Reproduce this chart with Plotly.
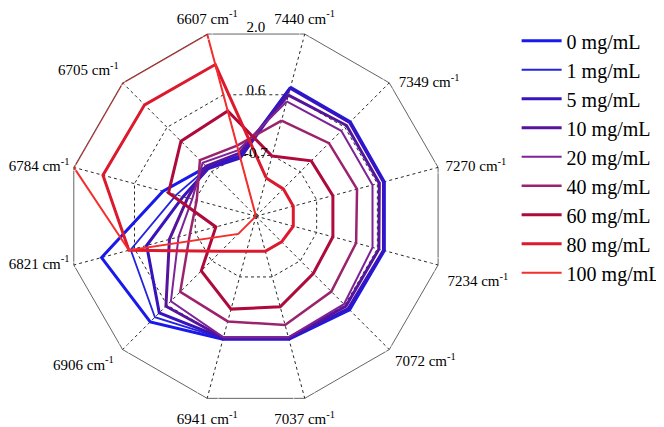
import plotly.graph_objects as go

wavenumbers = ["7440", "7349", "7270", "7234", "7072", "7037",
               "6941", "6906", "6821", "6784", "6705", "6607"]
axis_labels = [w + " cm<sup>-1</sup>" for w in wavenumbers]

names = ["0 mg/mL", "1 mg/mL", "5 mg/mL", "10 mg/mL", "20 mg/mL",
         "40 mg/mL", "60 mg/mL", "80 mg/mL", "100 mg/mL"]

c0 = [0.83, 0.83, 0.82, 0.82, 0.81, 0.70, 0.70, 1.17, 1.39, 0.04, -0.52, -0.68]
c1 = [0.82, 0.82, 0.81, 0.81, 0.79, 0.69, 0.69, 1.03, 0.75, -0.25, -0.55, -0.70]
c5 = [0.81, 0.81, 0.80, 0.80, 0.77, 0.68, 0.68, 0.90, 0.40, -0.40, -0.57, -0.72]
c10 = [0.66, 0.72, 0.71, 0.70, 0.70, 0.67, 0.67, 0.70, -0.10, -0.50, -0.50, -0.62]
c20 = [0.52, 0.56, 0.56, 0.56, 0.64, 0.66, 0.66, 0.55, -0.30, -0.60, -0.40, -0.55]
c40 = [0.10, 0.19, 0.22, 0.20, 0.26, 0.39, 0.31, 0.27, -0.55, -0.70, -0.32, -0.45]
c60 = [-0.68, -0.34, -0.31, -0.31, -0.28, -0.01, 0.04, -0.36, -1.12, -0.08, 0.25, 0.31]
c80 = [-1.16, -1.18, -1.18, -1.18, -1.23, -1.23, -1.23, -0.95, 0.79, 1.36, 1.34, 1.33]
c100 = [-2, -2, -2, -2, -2, -2, -2, -1.47, 0.79, 2.0, 2.0, 2.0]

series = [c0, c1, c5, c10, c20, c40, c60, c80, c100]
colors = ["rgb(25,25,235)", "rgb(35,35,225)", "rgb(55,20,190)", "rgb(85,20,155)",
          "rgb(125,35,150)", "rgb(155,35,110)", "rgb(175,10,60)", "rgb(220,25,45)",
          "rgb(245,45,45)"]
widths = [3, 1.8, 3, 3, 2, 2.5, 3, 3, 2]

ring_vals = [-0.6667, 0.6667, 2.0]
ring_text = ["-0.7", "0.6", "2.0"]
r_min, r_max = -2.0, 2.0

# where each wavenumber label sits around its vertex, and how far it is pushed
# out (plotly offsets text by the size of an invisible marker)
label_pos = ["top center", "middle right", "middle right", "bottom right",
             "bottom right", "bottom center", "bottom center", "bottom left",
             "middle left", "middle left", "top left", "top center"]
label_pad = [10, 14, 11, 14, 8, 22, 22, 13, 6, 6, 5, 10]

step = 360 / len(wavenumbers)
spoke_deg = [i * step for i in range(len(wavenumbers))]

serif = '"Liberation Serif", "Times New Roman", serif'

fig = go.Figure()
for name, vals, col, w in zip(names, series, colors, widths):
    fig.add_trace(go.Scatterpolar(
        r=vals + vals[:1], theta=axis_labels + axis_labels[:1],
        mode="lines", name=name, legendgroup=name,
        line=dict(color=col, width=w)
    ))

# wavenumber labels at the outer vertices, drawn on an invisible twin polar
fig.add_trace(go.Scatterpolar(
    r=[r_max - 0.01] * len(axis_labels), theta=spoke_deg, mode="markers+text",
    marker=dict(size=label_pad, color="rgba(0,0,0,0)"),
    text=axis_labels, textposition=label_pos, cliponaxis=False,
    subplot="polar2", textfont=dict(family=serif, size=15, color="black"),
    showlegend=False, hoverinfo="skip"
))

# ring value labels, straight up between the first and last spokes
fig.add_trace(go.Scatterpolar(
    r=[v - 0.01 for v in ring_vals], theta=[-step / 2] * len(ring_vals),
    mode="text", text=ring_text, textposition="middle center", cliponaxis=False,
    subplot="polar2", textfont=dict(family=serif, size=15, color="black"),
    showlegend=False, hoverinfo="skip"
))

dom = dict(x=[0.0894, 0.6574], y=[0.0649, 0.9599])
grid = dict(gridcolor="rgb(40,40,40)", griddash="dot", gridwidth=0.8)

fig.update_layout(
    width=664, height=427,
    margin=dict(l=0, r=0, t=0, b=0),
    paper_bgcolor="white",
    font=dict(family=serif, color="black"),
    polar=dict(
        domain=dom,
        gridshape="linear",
        bgcolor="white",
        angularaxis=dict(
            type="category", rotation=75, direction="clockwise",
            showline=True, linecolor="rgb(60,60,60)", linewidth=0.8,
            showticklabels=False, ticks="", **grid
        ),
        radialaxis=dict(
            range=[r_min, r_max], tickvals=ring_vals,
            showticklabels=False, showline=False, ticks="", **grid
        )
    ),
    polar2=dict(
        domain=dom,
        bgcolor="rgba(0,0,0,0)",
        angularaxis=dict(visible=False, rotation=75, direction="clockwise"),
        radialaxis=dict(visible=False, range=[r_min, r_max])
    ),
    legend=dict(
        x=0.766, y=0.969, xanchor="left", yanchor="top",
        font=dict(family=serif, size=20), bgcolor="rgba(0,0,0,0)",
        tracegroupgap=0, itemwidth=40
    )
)

fig.write_html("out.html")
